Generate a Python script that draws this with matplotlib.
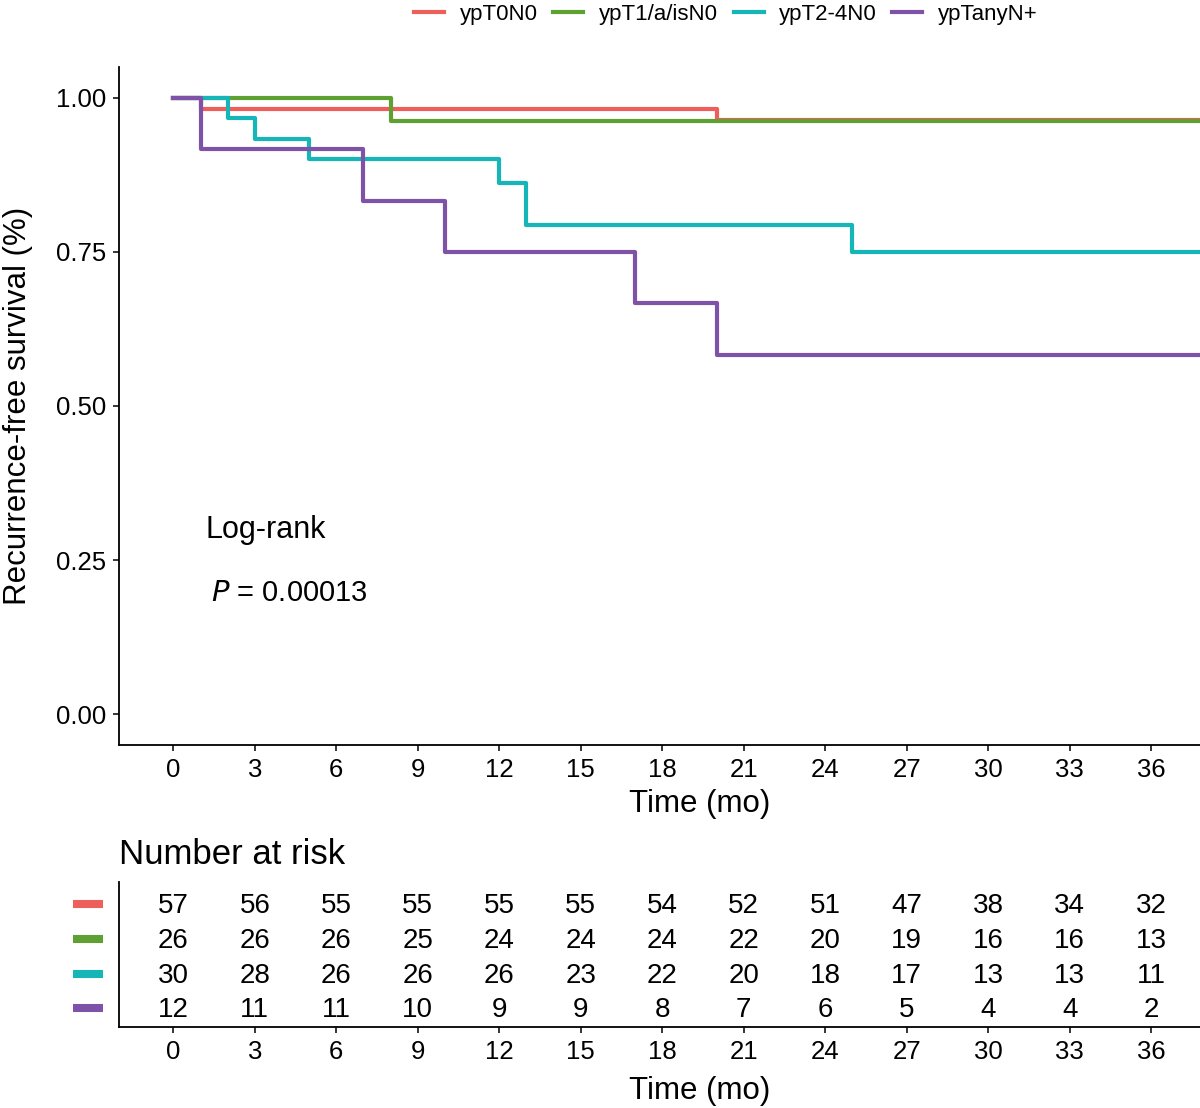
import matplotlib.pyplot as plt
import matplotlib.transforms as mtransforms

plt.rcParams['font.family'] = ['Liberation Sans', 'DejaVu Sans']

# survival curve data (event times in months, survival after each step)
groups = ['ypT0N0', 'ypT1/a/isN0', 'ypT2-4N0', 'ypTanyN+']
colors = ['#EE5E5A', '#5FA032', '#16B5B8', '#7E52A6']

red_t = [0, 1, 20]
red_s = [1.0, 0.982, 0.964]
green_t = [0, 8]
green_s = [1.0, 0.962]
cyan_t = [0, 2, 3, 5, 12, 13, 25]
cyan_s = [1.0, 0.967, 0.933, 0.900, 0.862, 0.793, 0.750]
purple_t = [0, 1, 7, 10, 17, 20]
purple_s = [1.0, 0.917, 0.833, 0.750, 0.667, 0.583]
t_end = 40

# number at risk table
risk_times = [0, 3, 6, 9, 12, 15, 18, 21, 24, 27, 30, 33, 36]
risk_red = [57, 56, 55, 55, 55, 55, 54, 52, 51, 47, 38, 34, 32]
risk_green = [26, 26, 26, 25, 24, 24, 24, 22, 20, 19, 16, 16, 13]
risk_cyan = [30, 28, 26, 26, 26, 23, 22, 20, 18, 17, 13, 13, 11]
risk_purple = [12, 11, 11, 10, 9, 9, 8, 7, 6, 5, 4, 4, 2]

curves = [(red_t, red_s), (green_t, green_s), (cyan_t, cyan_s), (purple_t, purple_s)]
risks = [risk_red, risk_green, risk_cyan, risk_purple]

xlim = (-2, 37.8)
tick_fs = 18.5

fig = plt.figure(figsize=(12, 11.08), dpi=100)

# main KM plot
ax = fig.add_axes([0.0992, 0.3276, 0.9008, 0.612])
for (t, s), c, g in zip(curves, colors, groups):
    ax.step(list(t) + [t_end], list(s) + [s[-1]], where='post', color=c, lw=3.0, label=g)
ax.set_xlim(*xlim)
ax.set_ylim(-0.05, 1.05)
ax.set_xticks(risk_times)
ax.set_yticks([0, 0.25, 0.5, 0.75, 1.0])
ax.set_yticklabels(['0.00', '0.25', '0.50', '0.75', '1.00'])
ax.tick_params(labelsize=tick_fs, length=4, width=1.1, pad=5, colors='black')
for sp in ['top', 'right']:
    ax.spines[sp].set_visible(False)
for sp in ['left', 'bottom']:
    ax.spines[sp].set_linewidth(1.3)
ax.set_xlabel('Time (mo)', fontsize=22.5)
ax.xaxis.set_label_coords(0.537, -0.065)
ax.set_ylabel('Recurrence-free survival (%)', fontsize=22.5, labelpad=17)
ax.text(1.2, 0.298, 'Log-rank', fontsize=22, va='center', ha='left')
ax.text(1.4, 0.196, '$P$ = 0.00013', fontsize=21, va='center', ha='left')

fig.legend(loc='center', bbox_to_anchor=(0.605, 0.987), ncol=4, frameon=False,
           fontsize=16, handlelength=1.35, handletextpad=0.7, columnspacing=0.7)

# risk table
axr = fig.add_axes([0.0992, 0.0731, 0.9008, 0.131])
axr.set_xlim(*xlim)
axr.set_ylim(-0.48, 3.70)
rows = [3, 2, 1, 0]
for row, r in zip(rows, risks):
    for t, n in zip(risk_times, r):
        axr.text(t, row, str(n), fontsize=tick_fs + 1.5, ha='center', va='center')
# coloured group keys left of the table
key_tr = mtransforms.blended_transform_factory(axr.transAxes, axr.transData)
for row, c in zip(rows, colors):
    axr.plot([-0.0287], [row + 0.06], marker='_', markersize=21.5, mew=5.8, color=c,
             transform=key_tr, clip_on=False)
axr.set_xticks(risk_times)
axr.set_yticks([])
axr.tick_params(axis='x', labelsize=tick_fs, length=4, width=1.1, pad=5)
for sp in ['top', 'right']:
    axr.spines[sp].set_visible(False)
for sp in ['left', 'bottom']:
    axr.spines[sp].set_linewidth(1.3)
axr.set_xlabel('Time (mo)', fontsize=22.5)
axr.xaxis.set_label_coords(0.537, -0.34)
axr.set_title('Number at risk', loc='left', fontsize=25, pad=13)

fig.savefig('out.png', dpi=100)
